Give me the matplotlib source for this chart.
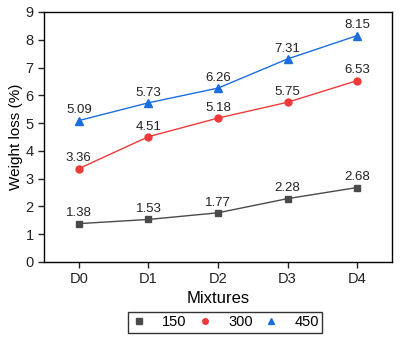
import matplotlib
matplotlib.use("Agg")
import matplotlib.pyplot as plt
from matplotlib.lines import Line2D

plt.rcParams['font.family'] = ['Liberation Sans', 'DejaVu Sans']

mixtures = ["D0", "D1", "D2", "D3", "D4"]
loss_150 = [1.38, 1.53, 1.77, 2.28, 2.68]
loss_300 = [3.36, 4.51, 5.18, 5.75, 6.53]
loss_450 = [5.09, 5.73, 6.26, 7.31, 8.15]
series_labels = ["150", "300", "450"]


def main():
    fig = plt.figure(figsize=(4.0, 3.38), dpi=100)
    ax = fig.add_axes([0.11, 0.225, 0.87, 0.7395])

    x = list(range(len(mixtures)))
    styles = [
        (loss_150, "#4a4a4a", "s", 5),
        (loss_300, "#ee3a3a", "o", 5),
        (loss_450, "#1a6ee0", "^", 6),
    ]
    handles = []
    for (vals, c, m, ms), lab in zip(styles, series_labels):
        ax.plot(x, vals, color=c, marker=m, markersize=ms, linewidth=1.0)
        for xi, v in zip(x, vals):
            ax.annotate(f"{v:.2f}", (xi, v), xytext=(0, 3),
                        textcoords="offset points", ha="center",
                        va="bottom", fontsize=9.5, color="#222222")
        handles.append(Line2D([], [], color=c, marker=m, markersize=ms - 1,
                              linestyle="none", label=lab))

    ax.set_xlim(-0.5, 4.5)
    ax.set_ylim(0, 9)
    ax.set_xticks(x)
    ax.set_xticklabels(mixtures)
    ax.set_yticks(range(0, 10))
    ax.tick_params(labelsize=10.5, direction="out", length=4, width=1,
                   colors="#222222")
    for s in ax.spines.values():
        s.set_linewidth(1.0)
    ax.set_xlabel("Mixtures", fontsize=12, labelpad=3)
    ax.set_ylabel("Weight loss (%)", fontsize=11, labelpad=2)

    fig.legend(handles=handles, loc="lower center", ncol=3,
               bbox_to_anchor=(0.5625, 0.015), fontsize=10.5, frameon=True,
               fancybox=False, edgecolor="black", handletextpad=1.1,
               columnspacing=0.75, borderpad=0.25, handlelength=1.0,
               borderaxespad=0)

    fig.savefig("out.png", dpi=100)


if __name__ == "__main__":
    main()
